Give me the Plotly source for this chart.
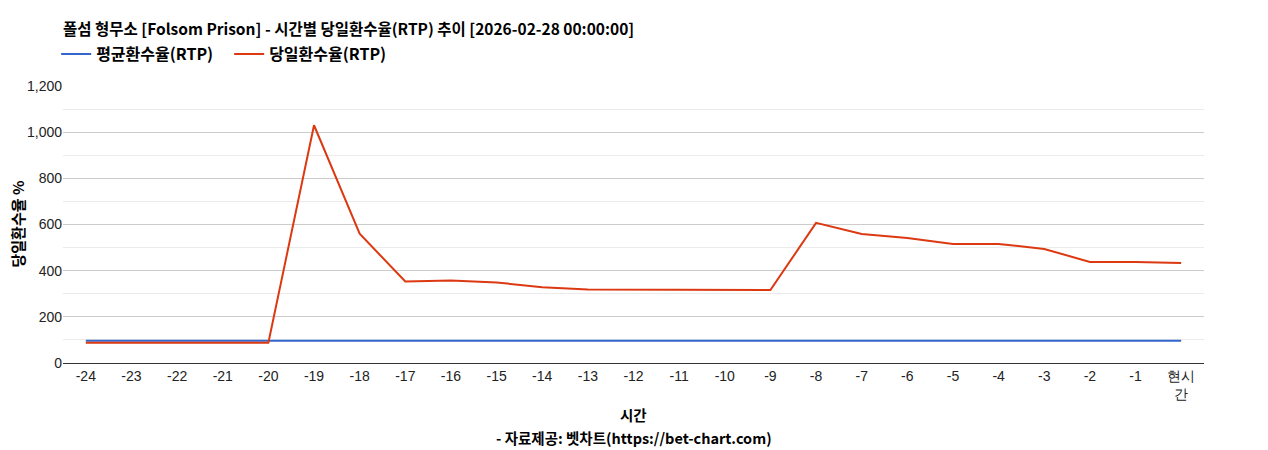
import plotly.graph_objects as go

categories = ["-24", "-23", "-22", "-21", "-20", "-19", "-18", "-17", "-16", "-15",
              "-14", "-13", "-12", "-11", "-10", "-9", "-8", "-7", "-6", "-5",
              "-4", "-3", "-2", "-1", "현시<br>간"]
avg_rtp = [96] * 25
daily_rtp = [88, 88, 88, 88, 88, 1030, 560, 353, 357, 349,
             328, 318, 318, 318, 316, 316, 607, 559, 542, 516,
             516, 494, 438, 438, 433]

title_text = "폴섬 형무소 [Folsom Prison] - 시간별 당일환수율(RTP) 추이 [2026-02-28 00:00:00]"
x_title = "시간"
source_text = "- 자료제공: 벳차트(https://bet-chart.com)"
y_title = "당일환수율 %"
series_names = ["평균환수율(RTP)", "당일환수율(RTP)"]

kfont = "Noto Sans CJK KR"
tfont = "Liberation Sans, Arial"

fig = go.Figure()
fig.add_trace(go.Scatter(x=categories, y=avg_rtp, mode="lines", name="<b>" + series_names[0] + "</b>",
                         line=dict(color="#3366cc", width=2)))
fig.add_trace(go.Scatter(x=categories, y=daily_rtp, mode="lines", name="<b>" + series_names[1] + "</b>",
                         line=dict(color="#dc3912", width=2)))

fig.update_layout(
    width=1268, height=450,
    margin=dict(l=55, r=72, t=78, b=95, autoexpand=False),
    paper_bgcolor="white", plot_bgcolor="white",
    title=dict(text="<b>" + title_text + "</b>", x=0, xref="paper", xanchor="left",
               y=1 - 22 / 450, yanchor="middle", yref="container",
               font=dict(family=kfont, size=15.5, color="#000")),
    legend=dict(orientation="h", x=-0.006, xanchor="left", y=1 - 46 / 450, yref="container",
                yanchor="middle", font=dict(family=kfont, size=16, color="#000"),
                traceorder="normal", bgcolor="rgba(0,0,0,0)",
                entrywidth=128, entrywidthmode="pixels"),
    showlegend=True,
    font=dict(family=tfont, size=14, color="#222"),
    annotations=[
        dict(text="<b>" + y_title + "</b>", xref="paper", yref="paper", x=0, y=0.5,
             xshift=-46, textangle=-90, showarrow=False, xanchor="center", yanchor="middle",
             font=dict(family=kfont, size=15, color="#000")),
        dict(text="<b>" + x_title + "</b>", xref="paper", yref="paper", x=0.5, y=0,
             yshift=-51, showarrow=False, xanchor="center", yanchor="middle",
             font=dict(family=kfont, size=14.5, color="#000")),
        dict(text="<b>" + source_text + "</b>", xref="paper", yref="paper", x=0.5, y=0,
             yshift=-74, showarrow=False, xanchor="center", yanchor="middle",
             font=dict(family=kfont, size=14.5, color="#000")),
    ],
)

fig.update_xaxes(
    type="category", showgrid=False, showline=True, linecolor="#333", linewidth=1,
    ticks="", tickfont=dict(family=tfont, size=14, color="#222"),
    range=[-0.5, len(categories) - 0.5],
    fixedrange=True,
)
fig.update_yaxes(
    range=[0, 1200], dtick=200, tickformat=",d", showgrid=True, gridcolor="#cccccc",
    gridwidth=1, zeroline=False,
    minor=dict(dtick=100, showgrid=True, gridcolor="#ebebeb", gridwidth=1),
    tickfont=dict(family=tfont, size=14, color="#222"),
    fixedrange=True,
)

fig.write_html("out.html")
